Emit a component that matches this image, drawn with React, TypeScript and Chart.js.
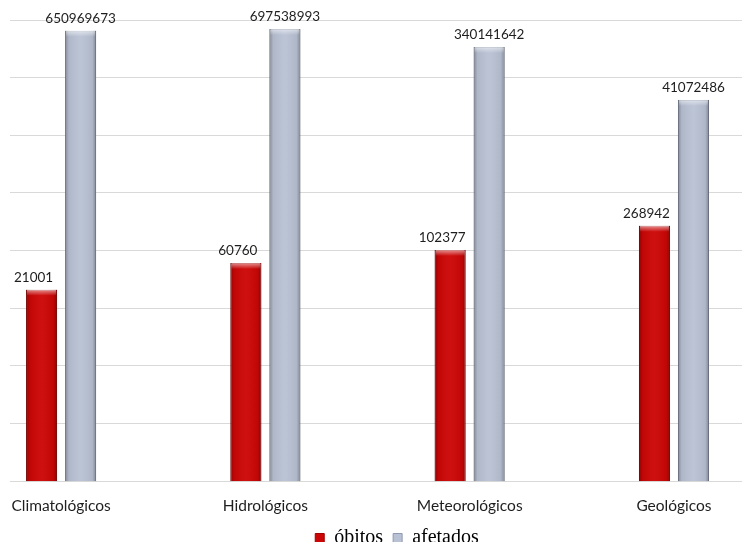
import React, { useEffect, useRef } from 'react';
import { Chart, registerables } from 'chart.js';

Chart.register(...registerables);

const categories = ['Climatológicos', 'Hidrológicos', 'Meteorológicos', 'Geológicos'];
const seriesNames = ['óbitos', 'afetados'];
const obitos = [21001, 60760, 102377, 268942];
const afetados = [650969673, 697538993, 340141642, 41072486];
const yGridValues = [1e1, 1e2, 1e3, 1e4, 1e5, 1e6, 1e7, 1e8, 1e9];

const RED = '#cc0606';
const RED_BORDER = '#a00000';
const GRAY = '#b9c2d4';
const GRAY_BORDER = '#8e9ab0';
const SANS = 'Lato, "Noto Sans", sans-serif';
const LEGEND_SHIFT_X = 21;
const LEGEND_SHIFT_Y = -13;

const bevelPlugin = {
  id: 'bevel',
  afterDatasetsDraw(chart: any) {
    const ctx = chart.ctx;
    chart.getSortedVisibleDatasetMetas().forEach((meta: any) => {
      meta.data.forEach((el: any) => {
        const { x, y, base, width } = el.getProps(['x', 'y', 'base', 'width'], true);
        const left = x - width / 2;
        ctx.save();
        const g = ctx.createLinearGradient(left, 0, left + width, 0);
        g.addColorStop(0, 'rgba(0,0,0,0.30)');
        g.addColorStop(0.12, 'rgba(0,0,0,0.06)');
        g.addColorStop(0.5, 'rgba(255,255,255,0.04)');
        g.addColorStop(0.88, 'rgba(0,0,0,0.06)');
        g.addColorStop(1, 'rgba(0,0,0,0.30)');
        ctx.fillStyle = g;
        ctx.fillRect(left, y, width, base - y);
        const t = ctx.createLinearGradient(0, y, 0, y + 6);
        t.addColorStop(0, 'rgba(255,255,255,0.55)');
        t.addColorStop(1, 'rgba(255,255,255,0)');
        ctx.fillStyle = t;
        ctx.fillRect(left + 1, y, width - 2, 6);
        ctx.restore();
      });
    });
  },
};

const valueLabelPlugin = {
  id: 'valueLabels',
  afterDatasetsDraw(chart: any) {
    const ctx = chart.ctx;
    ctx.save();
    ctx.font = '13.5px ' + SANS;
    ctx.fillStyle = '#1e1e1e';
    ctx.textAlign = 'center';
    ctx.textBaseline = 'alphabetic';
    chart.getSortedVisibleDatasetMetas().forEach((meta: any) => {
      const ds = chart.data.datasets[meta.index];
      meta.data.forEach((el: any, i: number) => {
        const { x, y } = el.getProps(['x', 'y'], true);
        const shift = meta.index === 0 ? -8 : 0;
        ctx.fillText(String(ds.data[i].y), x + shift, y - 8);
      });
    });
    ctx.restore();
  },
};

const legendShiftPlugin = {
  id: 'legendShift',
  afterLayout(chart: any) {
    const lg = chart.legend;
    if (!lg) return;
    lg.left += LEGEND_SHIFT_X;
    lg.right += LEGEND_SHIFT_X;
    lg.top += LEGEND_SHIFT_Y;
    lg.bottom += LEGEND_SHIFT_Y;
  },
};

export default function App() {
  const canvasRef = useRef<HTMLCanvasElement | null>(null);

  useEffect(() => {
    if (!canvasRef.current) return;
    const chart = new Chart(canvasRef.current, {
      type: 'bar',
      data: {
        datasets: [
          {
            label: seriesNames[0],
            data: obitos.map((v, i) => ({ x: i, y: v })),
            backgroundColor: RED,
            borderColor: RED_BORDER,
            borderWidth: 1,
            categoryPercentage: 0.382,
            barPercentage: 0.795,
          },
          {
            label: seriesNames[1],
            data: afetados.map((v, i) => ({ x: i, y: v })),
            backgroundColor: GRAY,
            borderColor: GRAY_BORDER,
            borderWidth: 1,
            categoryPercentage: 0.382,
            barPercentage: 0.795,
          },
        ],
      },
      options: {
        responsive: false,
        animation: false,
        devicePixelRatio: 1,
        layout: { padding: { left: 10, right: 0, top: 20, bottom: -29 } },
        scales: {
          x: {
            type: 'linear',
            offset: false,
            min: -0.25,
            max: 3.333,
            grid: { display: false, drawTicks: false, offset: false },
            border: { display: false },
            afterBuildTicks: (axis: any) => {
              axis.ticks = categories.map((_, i) => ({ value: i }));
            },
            afterFit: (axis: any) => {
              axis.paddingLeft = 0;
              axis.paddingRight = 0;
            },
            ticks: {
              autoSkip: false,
              maxRotation: 0,
              padding: 23,
              color: '#1e1e1e',
              font: { family: SANS, size: 15.5, lineHeight: 0.25 },
              callback: (v: any) => categories[v as number] ?? '',
            },
          },
          y: {
            type: 'logarithmic',
            min: 10,
            max: 1e9,
            grid: { color: '#d9d9d9', drawTicks: false, lineWidth: 1 },
            border: { display: false },
            afterBuildTicks: (axis: any) => {
              axis.ticks = yGridValues.map((v) => ({ value: v }));
            },
            ticks: { display: false },
          },
        },
        plugins: {
          legend: {
            position: 'bottom',
            labels: {
              boxWidth: 9,
              boxHeight: 9,
              padding: 10,
              color: '#000',
              font: { family: '"Liberation Serif", "DejaVu Serif", serif', size: 20 },
            },
          },
          tooltip: { enabled: false },
        },
      },
      plugins: [bevelPlugin, valueLabelPlugin, legendShiftPlugin],
    } as any);
    return () => chart.destroy();
  }, []);

  return (
    <div style={{ position: 'absolute', left: 0, top: 0, width: 742, height: 542, background: '#fff' }}>
      <canvas ref={canvasRef} width={742} height={542} style={{ display: 'block' }} />
    </div>
  );
}
